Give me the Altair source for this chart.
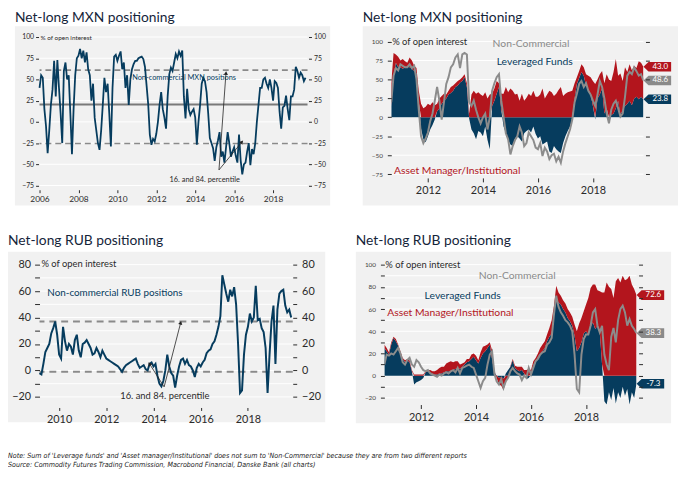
import altair as alt
import pandas as pd

FONT = "Lato"
NAVY = "#063c5e"
RED = "#b3151d"
GRAYL = "#8c8c8c"
DASH = "#8a8a8a"
BG = "#f1f1f1"
TXT = "#2a2a2a"
TITLE_C = "#15253a"


def frac_months(y0, m0, n):
    return [y0 + (m0 - 1 + i) / 12.0 for i in range(n)]


# ---------------- data: MXN non-commercial (monthly, Jan 2006 - Sep 2019) ----------------
mxn_nc_long = [
    40, 55, 52, 15, -5, -37, -10, 20, 38, 72, 30, 73,      # 2006
    40, 10, -25, 60, 70, 50, 55, 10, -38, 15, 55, 75,      # 2007
    78, 86, 75, 84, 70, 82, 62, 55, 25, 45, 5, -10,        # 2008
    -25, -33, -10, 20, 52, 35, 45, 10, -29, 40, 77, 79,    # 2009
    72, 78, 83, 62, 70, 40, 55, 20, 50, 62, 68, 72,        # 2010
    72, 75, 76, 77, 74, 65, 43, 21, -15, -27, -20, -23,    # 2011
    -14, 0, 20, 35, 15, 5, -8, 30, 56, 64, 60, 70,         # 2012
    80, 75, 83, 78, 84, 30, 4, 39, 15, 8, 12, 15,          # 2013
    5, -27, 0, 20, 45, 52, 48, 35, 10, -19, -25, -31,      # 2014
    -46, -30, -22, -12, -41, -35, -48, -30, -12, -25, -41, -35,  # 2015
    -30, -40, -48, -15, -45, -62, -50, -48, -35, -25, -51, -32,  # 2016
    -38, -25, 0, 20, 40, 40, 50, 52, 45, 40, 50, 40,       # 2017
    25, 48, 46, 40, 12, -8, 17, 19, 31, 15, 2, 30,         # 2018
    30, 38, 65, 60, 52, 58, 55, 48, 52,                    # 2019
]
mxn_pct = [61, -25.5]
mxn_mean = [20.5]

# ---------------- data: RUB non-commercial (monthly, Mar 2009 - Nov 2019) ----------------
rub_nc_long = [
    -2, -3, 5, 14, 17, 20, 28, 32, 37, 27,                 # 2009
    12, 9, 33, 22, 15, 20, 18, 12, 23, 27, 15, 10,         # 2010
    20, 21, 23, 20, 17, 12, 13, 17, 14, 10, 15, 12,        # 2011
    9, 8, 7, 6, 5, 4, 3, 1, -1, 2, 4, 5,                   # 2012
    6, 7, 8, 9, 5, 2, 3, 4, 1, 0, 5, 6,                    # 2013
    3, 5, -4, -10, -12, -8, 0, 12, 3, -2, -4, -13,         # 2014
    -4, 3, 8, 9, 5, 8, 4, 3, 0, -5, 2, 5,                  # 2015
    3, 6, 8, 13, 15, 16, 20, 22, 27, 33, 41, 72,           # 2016
    65, 58, 52, 61, 56, 63, 50, 20, -17, -15, 12, 27,      # 2017
    33, 43, 37, 40, 64, 38, 39, 32, 29, 17, -17, 12,       # 2018
    37, 49, 5, 46, 58, 60, 61, 49, 44, 46, 40,             # 2019
]
rub_pct = [37, -1]

# ---------------- data: MXN by trader type (monthly, Sep 2010 - Nov 2019) ----------------
mxn_lev = [
    15, 55, 72, 66,
    66, 64, 66, 68, 66, 64, 61, 58, 20, -15, -29, -33,
    -25, -16, -10, -3, 8, 12, 18, 22, 25, 30, 32, 35,
    40, 42, 46, 48, 53, 40, -2, -16, -21, -29, -18, -20,
    -25, -12, -30, -42, 15, 22, 31, 40, 10, -12, -21, -30,
    -36, -38, -28, -25, -28, -32, -21, -18, -16, -20, -12, -22,
    -28, -25, -36, -34, -32, -45, -47, -38, -42, -45, -47, -34,
    -25, -18, -12, -3, 25, 44, 52, 60, 55, 42, 36, 30,
    15, -3, 25, 30, 38, 5, 12, -8, 3, 5, 12, 22,
    3, 10, 15, 18, 22, 16, 25, 27, 24, 27, 23.8,
]
mxn_am = [
    30, 30, 11, 14,
    9, 13, 8, 4, 13, 11, 7, 7, 15, 18, 12, 14,
    18, 16, 20, 16, 10, 13, 10, 9, 5, 5, 8, 7,
    5, 6, 4, 5, 4, 5, 5, 30, 35, 31, 33, 30,
    28, 33, 25, 30, 16, 16, 17, 5, 21, 31, 40, 33,
    38, 35, 30, 31, 22, 31, 22, 26, 31, 28, 35, 27,
    27, 30, 38, 25, 30, 35, 33, 28, 31, 36, 40, 28,
    31, 33, 34, 35, 20, 9, 9, 10, 11, 15, 19, 23,
    33, 44, 25, 27, 23, 40, 45, 50, 45, 55, 65, 33,
    55, 38, 51, 42, 48, 46, 43, 38, 50, 45, 43.0,
]
mxn_nc = [
    20, 55, 65, 62,
    70, 68, 66, 66, 70, 65, 68, 50, 10, -25, -34, -28,
    -20, -5, 5, 22, 40, 22, -3, 20, 44, 53, 66, 70,
    79, 83, 65, 83, 85, 83, 20, 15, 22, 10, 0, -8,
    0, 5, -16, 0, 35, 45, 53, 57, 22, 1, -21, -29,
    -49, -38, -30, -25, -12, -20, -38, -34, -20, -25, -30, -40,
    -42, -34, -51, -40, -45, -55, -50, -48, -58, -52, -60, -45,
    -34, -25, -16, -3, 20, 31, 44, 48, 40, 45, 35, 30,
    22, 15, 30, 48, 40, 25, 5, -8, 10, 18, 22, 12,
    1, 5, 27, 55, 60, 57, 66, 61, 55, 57, 48.6,
]

# ---------------- data: RUB by trader type (monthly, Sep 2010 - Nov 2019) ----------------
rub_lev = [
    25, 22, 19, 28,
    34, 31, 27, 20, 15, 12, 14, 12, 4, -8, -6, -5,
    -4, -2, 3, 4, 3, 2, 1, 1, 2, 2, 3, 4,
    4, 3, 5, 6, 7, 6, 8, 10, 12, 13, 15, 17,
    14, 11, 16, 20, 22, 25, 28, 15, 3, 0, -2, -1,
    -3, 2, 5, 8, 14, 7, 5, 4, 5, 2, -3, -2,
    1, 10, 13, 17, 20, 22, 25, 31, 35, 38, 55, 69,
    66, 64, 60, 57, 52, 49, 45, 36, 22, 25, 30, 38,
    40, 37, 44, 48, 42, 45, 40, 10, -23, -26, -15, -22,
    -11, -25, -15, -20, -10, -18, -12, -26, -15, -20, -7.3,
]
rub_am = [
    3, 3, 2, 2,
    1, 2, 1, 2, 1, 2, 1, 2, 1, 1, 1, 1,
    1, 1, 1, 1, 2, 2, 3, 4, 5, 6, 5, 7,
    8, 10, 7, 7, 6, 4, 3, 2, 3, 2, 4, 3,
    4, 3, 5, 6, 5, 3, 2, 8, 2, -2, -6, -8,
    -10, -6, -2, 1, 1, 2, 3, 4, 3, 3, 5, 6,
    4, 3, 3, 3, 5, 6, 6, 6, 8, 12, 8, 12,
    9, 8, 8, 8, 8, 8, 8, 10, 18, 22, 22, 20,
    24, 33, 35, 34, 40, 32, 36, 65, 75, 84, 80, 78,
    70, 85, 88, 84, 90, 86, 87, 90, 82, 78, 72.6,
]
rub_nc = [
    10, 19, 18, 20,
    19, 22, 25, 20, 12, 10, 14, 16, 10, 8, 14, 12,
    8, 5, 4, 5, 2, 1, 0, -1, 1, 0, 2, 3,
    2, 4, 5, 3, 7, 2, 7, 8, 9, 10, 8, 7,
    1, -5, -11, -5, -2, 10, 19, 22, 2, -5, -8, -3,
    -11, -5, -2, 4, 7, 4, 2, 1, -4, 0, -2, 7,
    1, 7, 13, 15, 19, 21, 22, 28, 30, 34, 55, 72,
    62, 57, 54, 50, 48, 45, 40, 19, -12, -15, 19, 33,
    37, 37, 45, 57, 60, 45, 39, 45, 19, 10, 5, 35,
    43, 30, 50, 60, 63, 57, 45, 51, 45, 42, 38.3,
]

t_mxn_long = frac_months(2006, 1, len(mxn_nc_long))
t_rub_long = frac_months(2009, 3, len(rub_nc_long))
t_cot = frac_months(2010, 9, len(mxn_lev))

TAG_PATH = "M -1 0 L -0.64 -0.35 L 1 -0.35 L 1 0.35 L -0.64 0.35 Z"
ONE = pd.DataFrame({"a": [0]})


def bg(W, H, l, r, t, b):
    return alt.Chart(ONE).mark_rect(color=BG).encode(
        x=alt.value(-l), x2=alt.value(W + r), y=alt.value(-t), y2=alt.value(H + b))


def yaxis(orient, values, fs, pad, tick=4, offset=0, labels=True, every=None, color=TXT):
    kw = dict(orient=orient, values=values, labelFontSize=fs, labelColor=color, labelFont=FONT,
              tickColor=TXT, tickSize=tick, tickWidth=1, labelPadding=pad, offset=offset,
              domain=False, grid=False, title=None, zindex=1, labels=labels)
    if every:
        kw["labelExpr"] = "datum.value %% %d === 0 ? datum.label : ''" % every
    return alt.Axis(**kw)


def xaxis(values, fs, pad, tick=3):
    return alt.Axis(values=values, format="d", labelFontSize=fs, labelColor=TXT, labelFont=FONT,
                    tickColor=TXT, tickSize=tick, labelPadding=pad, domain=False, grid=False,
                    title=None, zindex=1, labelFlush=False)


def texts(df, xs, ys, xa, ya):
    return alt.Chart(df).mark_text(align="left", baseline="middle", font=FONT).encode(
        x=alt.X("x:Q", scale=xs, axis=xa), y=alt.Y("y:Q", scale=ys, axis=ya),
        text="s:N", color=alt.Color("c:N", scale=None), size=alt.Size("fs:Q", scale=None))


def arrows(df, xs, ys, xa, ya, width=0.8):
    line = alt.Chart(df).mark_rule(color="#222", strokeWidth=width).encode(
        x=alt.X("x1:Q", scale=xs, axis=xa), x2="x2:Q",
        y=alt.Y("y1:Q", scale=ys, axis=ya), y2="y2:Q")
    head = alt.Chart(df).mark_point(shape="triangle-up", filled=True, color="#222", opacity=1, size=18).encode(
        x=alt.X("x2:Q", scale=xs, axis=xa), y=alt.Y("y2:Q", scale=ys, axis=ya),
        angle=alt.Angle("ang:Q", scale=None))
    return [line, head]


def title(txt, off):
    return alt.TitleParams(txt, anchor="start", frame="bounds", fontSize=14, font=FONT,
                           fontWeight="normal", color=TITLE_C, offset=off)


# ---------------- panel 1: Net-long MXN (non-commercial) ----------------
W1, H1 = 272, 155
xs1 = alt.Scale(domain=[2006.0, 2019.77], nice=False, zero=False)
ys1 = alt.Scale(domain=[-80, 100], nice=False, zero=False)
v25 = [-75, -50, -25, 0, 25, 50, 75, 100]
xa1 = xaxis([2006, 2008, 2010, 2012, 2014, 2016, 2018], 8.5, 2)
ya1 = yaxis("left", v25, 7, 2, tick=3, offset=1)
df1 = pd.DataFrame({"t": t_mxn_long, "v": mxn_nc_long})
grid1 = alt.Chart(pd.DataFrame({"g": v25})).mark_rule(color="white", strokeWidth=1).encode(
    y=alt.Y("g:Q", scale=ys1, axis=yaxis("right", v25, 7, 2, tick=3, offset=1)))
pct1 = alt.Chart(pd.DataFrame({"v": mxn_pct})).mark_rule(color=DASH, strokeDash=[6, 4], strokeWidth=1.6).encode(
    y=alt.Y("v:Q", scale=ys1, axis=ya1))
mean1 = alt.Chart(pd.DataFrame({"v": mxn_mean})).mark_rule(color="#7a7a7a", strokeWidth=2.2).encode(
    y=alt.Y("v:Q", scale=ys1, axis=ya1))
ann1 = pd.DataFrame({
    "x": [2006.05, 2010.76, 2012.68], "y": [99, 51.5, -68],
    "s": ["% of open interest", "Non-commercial MXN positions", "16. and 84. percentile"],
    "c": [TXT, NAVY, TXT], "fs": [6.5, 7.5, 7.5]})
line1 = alt.Chart(df1).mark_line(color=NAVY, strokeWidth=1.8).encode(
    x=alt.X("t:Q", scale=xs1, axis=xa1), y=alt.Y("v:Q", scale=ys1, axis=ya1))
arr1 = pd.DataFrame({"x1": [2015.22, 2015.22], "y1": [-56.6, -56.6], "x2": [2015.58, 2016.4],
                     "y2": [57.6, -23.7], "ang": [4, 40]})
p1 = alt.layer(
    alt.layer(bg(W1, H1, 25, 23, 11, 16), grid1),
    alt.layer(pct1, mean1, texts(ann1, xs1, ys1, xa1, ya1), line1, *arrows(arr1, xs1, ys1, xa1, ya1)),
).resolve_scale(y="independent").properties(width=W1, height=H1, title=title("Net-long MXN positioning", 1))

# ---------------- panels 2 and 4: stacked by trader type ----------------
xs_c = alt.Scale(domain=[2010.667, 2019.84], nice=False, zero=False)
SER = ["Leveraged Funds", "Asset Manager/Institutional"]


def cot_panel(lev, am, nc, W, H, ydom, tickvals, every, ann, bgpad, ttl, toff):
    ys = alt.Scale(domain=ydom, nice=False, zero=False)
    xa = xaxis([2012, 2014, 2016, 2018], 11, 3, tick=4)
    ya = yaxis("left", tickvals, 6.5, 5, tick=4, every=every, color="#444")
    n = len(lev)
    df = pd.DataFrame({"t": t_cot * 2, "v": lev + am, "s": [SER[0]] * n + [SER[1]] * n,
                       "o": [0] * n + [1] * n})
    dnc = pd.DataFrame({"t": t_cot, "v": nc})
    grid = alt.Chart(pd.DataFrame({"g": tickvals})).mark_rule(color="white", strokeWidth=1).encode(
        y=alt.Y("g:Q", scale=ys, axis=yaxis("right", tickvals, 6.5, 3, tick=4, offset=2, labels=False)))
    area = alt.Chart(df).mark_area(opacity=1, clip=True, interpolate="linear").encode(
        x=alt.X("t:Q", scale=xs_c, axis=xa),
        y=alt.Y("v:Q", scale=ys, stack="zero", axis=ya),
        color=alt.Color("s:N", scale=alt.Scale(domain=SER, range=[NAVY, RED]), legend=None),
        order=alt.Order("o:Q"))
    gl = alt.Chart(dnc).mark_line(color=GRAYL, strokeWidth=2, clip=True).encode(
        x=alt.X("t:Q", scale=xs_c, axis=xa), y=alt.Y("v:Q", scale=ys, axis=ya))
    tag_df = pd.DataFrame({
        "y": [lev[-1] + am[-1] if lev[-1] > 0 else am[-1], nc[-1], lev[-1]],
        "s": ["%.1f" % am[-1], "%.1f" % nc[-1], "%.1f" % lev[-1]],
        "c": [RED, "#8a8a8a", NAVY]})
    tags = alt.Chart(tag_df).mark_point(shape=TAG_PATH, filled=True, size=784, opacity=1).encode(
        x=alt.value(W + 14), y=alt.Y("y:Q", scale=ys, axis=ya), color=alt.Color("c:N", scale=None))
    tagt = alt.Chart(tag_df).mark_text(color="white", fontSize=8, font=FONT, align="center",
                                       baseline="middle").encode(
        x=alt.value(W + 17), y=alt.Y("y:Q", scale=ys, axis=ya), text="s:N")
    l, r, t, b = bgpad
    return alt.layer(
        alt.layer(bg(W, H, l, r, t, b), grid),
        alt.layer(area, gl, texts(ann, xs_c, ys, xa, ya), tags, tagt),
    ).resolve_scale(y="independent").properties(width=W, height=H, title=title(ttl, toff))


ann2 = pd.DataFrame({
    "x": [2010.7, 2014.35, 2014.5, 2010.77], "y": [99.5, 97, 72.6, -71.3],
    "s": ["% of open interest", "Non-Commercial", "Leveraged Funds", "Asset Manager/Institutional"],
    "c": [TXT, "#8a8a8a", NAVY, RED], "fs": [9.5, 10.5, 10.5, 10.5]})
p2 = cot_panel(mxn_lev, mxn_am, mxn_nc, 256, 143, [-80, 106], v25, None, ann2,
               (29, 35, 11, 28), "Net-long MXN positioning", 1)

v10b = list(range(-20, 101, 10))
ann4 = pd.DataFrame({
    "x": [2010.7, 2014.1, 2012.13, 2010.77], "y": [99.4, 89.6, 71.9, 56.8],
    "s": ["% of open interest", "Non-Commercial", "Leveraged Funds", "Asset Manager/Institutional"],
    "c": [TXT, "#8a8a8a", NAVY, RED], "fs": [9.5, 10.5, 10.5, 10.5]})
p4 = cot_panel(rub_lev, rub_am, rub_nc, 256, 142, [-26, 100], v10b, 20, ann4,
               (29, 35, 13, 19), "Net-long RUB positioning", 4)

# ---------------- panel 3: Net-long RUB (non-commercial) ----------------
W3, H3 = 257, 145
xs3 = alt.Scale(domain=[2009.17, 2019.9], nice=False, zero=False)
ys3 = alt.Scale(domain=[-28, 80], nice=False, zero=False)
v10 = list(range(-20, 81, 10))
xa3 = xaxis([2010, 2012, 2014, 2016, 2018], 11, 3)
ya3 = yaxis("left", v10, 11, 4, tick=5, every=20)
df3 = pd.DataFrame({"t": t_rub_long, "v": rub_nc_long})
grid3 = alt.Chart(pd.DataFrame({"g": v10})).mark_rule(color="white", strokeWidth=1).encode(
    y=alt.Y("g:Q", scale=ys3, axis=yaxis("right", v10, 11, 5, tick=4, every=20)))
pct3 = alt.Chart(pd.DataFrame({"v": rub_pct})).mark_rule(color=DASH, strokeDash=[7, 5], strokeWidth=2).encode(
    y=alt.Y("v:Q", scale=ys3, axis=ya3))
ann3 = pd.DataFrame({
    "x": [2009.25, 2009.5, 2012.59], "y": [80.2, 58.6, -19.6],
    "s": ["% of open interest", "Non-commercial RUB positions", "16. and 84. percentile"],
    "c": [TXT, NAVY, TXT], "fs": [9.5, 10, 9.5]})
line3 = alt.Chart(df3).mark_line(color=NAVY, strokeWidth=2).encode(
    x=alt.X("t:Q", scale=xs3, axis=xa3), y=alt.Y("v:Q", scale=ys3, axis=ya3))
arr3 = pd.DataFrame({"x1": [2014.45, 2014.45], "y1": [-12.4, -12.4], "x2": [2013.83, 2015.15],
                     "y2": [5.0, 36.0], "ang": [327, 14]})
p3 = alt.layer(
    alt.layer(bg(W3, H3, 32, 33, 13, 15), grid3),
    alt.layer(pct3, texts(ann3, xs3, ys3, xa3, ya3), line3, *arrows(arr3, xs3, ys3, xa3, ya3)),
).resolve_scale(y="independent").properties(width=W3, height=H3, title=title("Net-long RUB positioning", 4))

foot = alt.TitleParams(
    ["Note: Sum of 'Leverage funds' and 'Asset manager/Institutional' does not sum to 'Non-Commercial' because they are from two different reports",
     "Source: Commodity Futures Trading Commission, Macrobond Financial, Danske Bank (all charts)"],
    orient="bottom", anchor="start", frame="bounds", fontSize=7.2, fontStyle="italic",
    font="Liberation Sans Narrow, DejaVu Sans Condensed, Liberation Sans", fontWeight="normal",
    color="#222", offset=28, lineHeight=9.5)

chart = alt.vconcat(
    alt.hconcat(p1, p2, spacing=33),
    alt.hconcat(p3, p4, spacing=31),
    spacing=29,
).properties(title=foot, padding=0, background="white").configure_view(stroke=None)

chart.save("out.html", embed_options={"renderer": "svg", "actions": False})
